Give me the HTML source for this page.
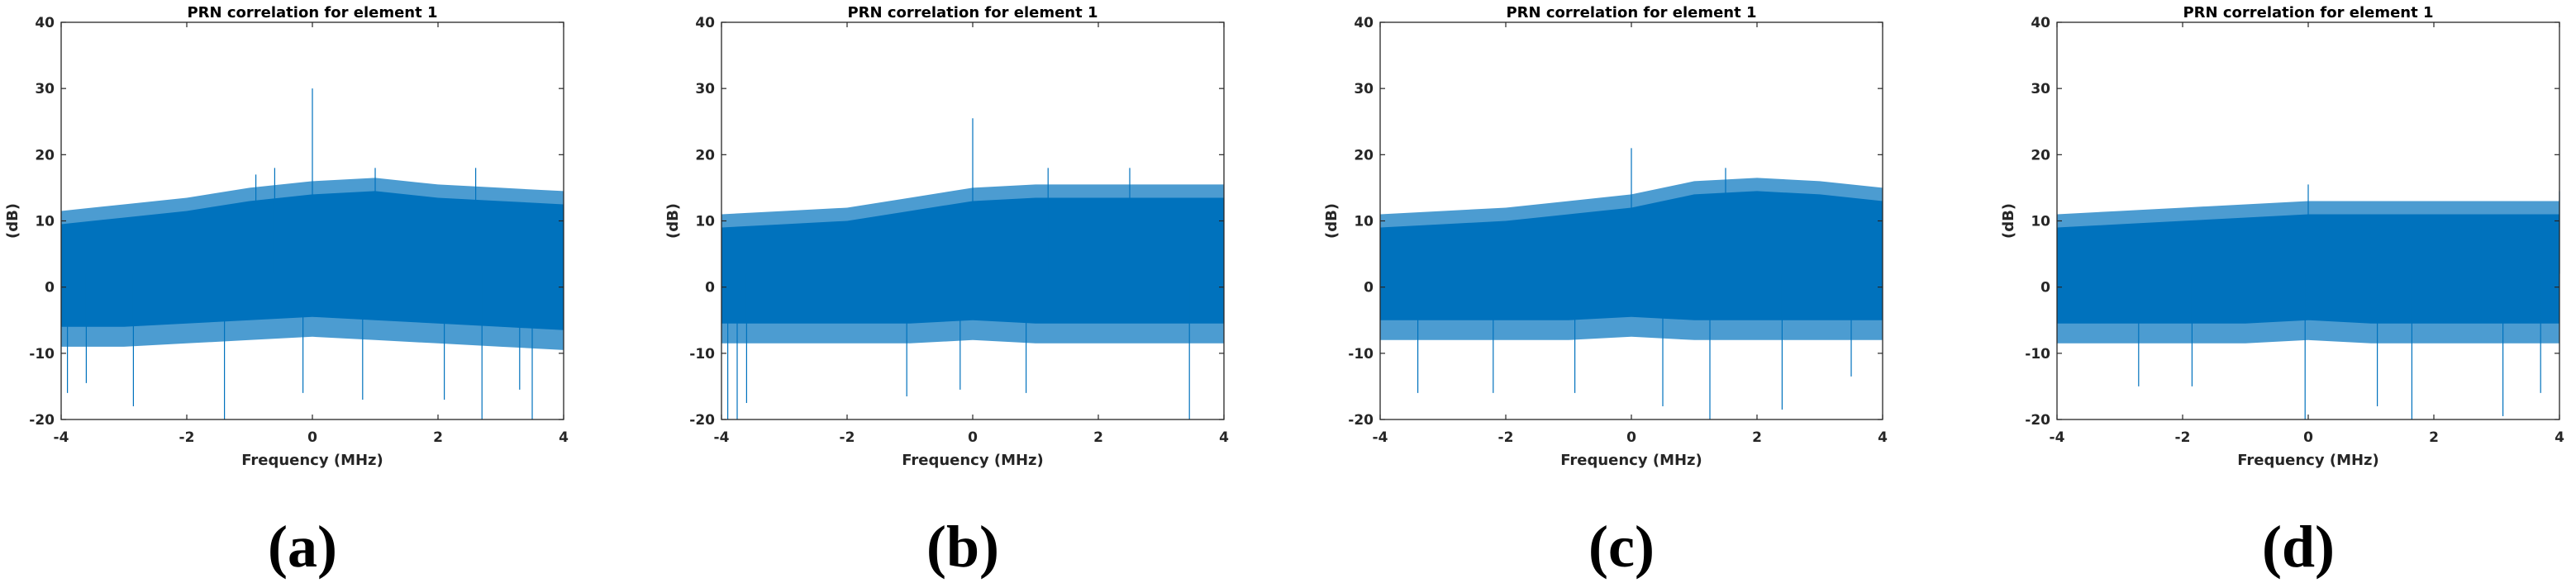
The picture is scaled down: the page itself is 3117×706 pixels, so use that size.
<!DOCTYPE html>
<html><head><meta charset="utf-8"><style>
html,body{margin:0;padding:0;background:#fff;}
svg{display:block;}
text{font-family:"DejaVu Sans","Liberation Sans",sans-serif;}
text.plabel{font-family:"Liberation Serif",serif;}
</style></head><body>
<svg id="fig" width="3117" height="706" viewBox="0 0 3117 706" xmlns="http://www.w3.org/2000/svg"></svg>
<script>
const freqGrid = [-4,-3,-2,-1,0,1,2,3,4];
const yTicks = [40,30,20,10,0,-10,-20];
const xTicks = [-4,-2,0,2,4];
const panelLabels = ['(a)','(b)','(c)','(d)'];
const upperA = [9.5,10.5,11.5,13,14,14.5,13.5,13,12.5];
const lowerA = [-6,-6,-5.5,-5,-4.5,-5,-5.5,-6,-6.5];
const upperB = [9,9.5,10,11.5,13,13.5,13.5,13.5,13.5];
const lowerB = [-5.5,-5.5,-5.5,-5.5,-5,-5.5,-5.5,-5.5,-5.5];
const upperC = [9,9.5,10,11,12,14,14.5,14,13];
const lowerC = [-5,-5,-5,-5,-4.5,-5,-5,-5,-5];
const upperD = [9,9.5,10,10.5,11,11,11,11,11];
const lowerD = [-5.5,-5.5,-5.5,-5.5,-5,-5.5,-5.5,-5.5,-5.5];
const spikeFreqA = [0,-1.4,3.5,2.7,-2.85,-0.15,0.8,2.1,-3.9,1,-0.6,-0.9,2.6,-3.6,3.3];
const spikeValA = [30,-20,-20,-20,-18,-16,-17,-17,-16,18,18,17,18,-14.5,-15.5];
const spikeFreqB = [0,2.5,-3.9,-3.75,3.45,-3.6,0.85,-1.05,1.2,-0.2];
const spikeValB = [25.5,18,-20,-20,-20,-17.5,-16,-16.5,18,-15.5];
const spikeFreqC = [0,1.5,1.25,0.5,2.4,-3.4,-0.9,-2.2,3.5];
const spikeValC = [21,18,-20,-18,-18.5,-16,-16,-16,-13.5];
const spikeFreqD = [0,4,-0.05,1.65,3.1,1.1,-2.7,-1.85,3.7];
const spikeValD = [15.5,14.5,-20,-20,-19.5,-18,-15,-15,-16];

const panels = [
 {left:74, up:upperA, lo:lowerA, sf:spikeFreqA, sv:spikeValA},
 {left:873, up:upperB, lo:lowerB, sf:spikeFreqB, sv:spikeValB},
 {left:1670, up:upperC, lo:lowerC, sf:spikeFreqC, sv:spikeValC},
 {left:2489, up:upperD, lo:lowerD, sf:spikeFreqD, sv:spikeValD}
];
const NS='http://www.w3.org/2000/svg';
const svg=document.getElementById('fig');
const W=608, TOP=27, BOT=508, COL='#0072BD';
function mk(tag,attrs,parent){const e=document.createElementNS(NS,tag);for(const k in attrs)e.setAttribute(k,attrs[k]);(parent||svg).appendChild(e);return e;}
panels.forEach((p,i)=>{
  const g=mk('g',{});
  
  
  const xs=f=>p.left+(f+4)/8*W;
  const ys=v=>BOT-(v+20)/60*(BOT-TOP);
  let fr='';
  freqGrid.forEach((f,k)=>{fr+=(k?'L':'M')+xs(f)+','+ys(p.up[k]+2);});
  for(let k=freqGrid.length-1;k>=0;k--)fr+='L'+xs(freqGrid[k])+','+ys(p.lo[k]-3);
  const fe=mk('path',{d:fr+'Z',fill:COL,'fill-opacity':0.7},g);
  
  
  let d='';
  freqGrid.forEach((f,k)=>{d+=(k?'L':'M')+xs(f)+','+ys(p.up[k]);});
  for(let k=freqGrid.length-1;k>=0;k--)d+='L'+xs(freqGrid[k])+','+ys(p.lo[k]);
  const band=mk('path',{d:d+'Z',fill:COL},g);
  
  
  p.sf.forEach((f,k)=>{
    const l=mk('line',{x1:xs(f),x2:xs(f),y1:ys(2),y2:ys(p.sv[k]),stroke:COL,'stroke-width':1.2},g);
    
    
  });
  const ax=mk('rect',{x:p.left,y:TOP,width:W,height:BOT-TOP,fill:'none',stroke:'#262626','stroke-width':1.3},g);
  
  
  yTicks.forEach(v=>{
    mk('line',{x1:p.left,x2:p.left+6,y1:ys(v),y2:ys(v),stroke:'#262626','stroke-width':1.2},g);
    mk('line',{x1:p.left+W,x2:p.left+W-6,y1:ys(v),y2:ys(v),stroke:'#262626','stroke-width':1.2},g);
    const t=mk('text',{x:p.left-8,y:ys(v)+6,'text-anchor':'end','font-size':17,'font-weight':'bold',fill:'#262626'},g);
    t.textContent=v;
    
    
  });
  xTicks.forEach(v=>{
    mk('line',{x1:xs(v),x2:xs(v),y1:BOT,y2:BOT-6,stroke:'#262626','stroke-width':1.2},g);
    mk('line',{x1:xs(v),x2:xs(v),y1:TOP,y2:TOP+6,stroke:'#262626','stroke-width':1.2},g);
    const t=mk('text',{x:xs(v),y:535,'text-anchor':'middle','font-size':17,'font-weight':'bold',fill:'#262626'},g);
    t.textContent=v;
    
    
  });
  const ti=mk('text',{x:p.left+W/2,y:21,'text-anchor':'middle','font-size':18,'font-weight':'bold',fill:'#000'},g);
  ti.textContent='PRN correlation for element 1';
  
  
  const xl=mk('text',{x:p.left+W/2,y:563,'text-anchor':'middle','font-size':18,'font-weight':'bold',fill:'#262626'},g);
  xl.textContent='Frequency (MHz)';
  
  
  const yl=mk('text',{x:0,y:0,'text-anchor':'middle','font-size':18,'font-weight':'bold',fill:'#262626',transform:'translate('+(p.left-53)+','+((TOP+BOT)/2)+') rotate(-90)'},g);
  yl.textContent='(dB)';
  
  
  const pl=mk('text',{x:p.left+W/2-12,y:686,'text-anchor':'middle','font-size':72,'font-weight':'bold',fill:'#000','class':'plabel'},g);
  pl.textContent=panelLabels[i];
  
  
});
</script>
</body></html>
